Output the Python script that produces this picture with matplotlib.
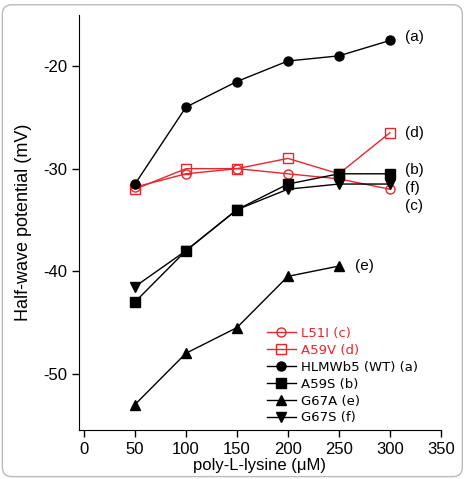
import matplotlib.pyplot as plt
from matplotlib.patches import FancyBboxPatch

# poly-L-lysine concentrations (uM)
conc = [50, 100, 150, 200, 250, 300]
conc_e = [50, 100, 150, 200, 250]

# half-wave potentials (mV)
l51i = [-31.8, -30.5, -30.0, -30.5, -31.0, -32.0]
a59v = [-32.0, -30.0, -30.0, -29.0, -30.5, -26.5]
wt = [-31.5, -24.0, -21.5, -19.5, -19.0, -17.5]
a59s = [-43.0, -38.0, -34.0, -31.5, -30.5, -30.5]
g67a = [-53.0, -48.0, -45.5, -40.5, -39.5]
g67s = [-41.5, -38.0, -34.0, -32.0, -31.5, -31.5]

tags = ['(a)', '(d)', '(b)', '(f)', '(c)', '(e)']
tag_x = [315, 315, 315, 315, 315, 266]
tag_y = [-17.2, -26.5, -30.1, -31.9, -33.6, -39.5]

plt.rcParams['font.family'] = ['Liberation Sans', 'DejaVu Sans']
plt.rcParams['axes.unicode_minus'] = False

fig = plt.figure(figsize=(4.67, 4.79), dpi=100)
ax = fig.add_axes([0.169, 0.102, 0.775, 0.867])

red = '#e8262b'
ax.plot(conc, l51i, color=red, marker='o', mfc='none', mec=red, ms=6.5, lw=1, label='L51I (c)')
ax.plot(conc, a59v, color=red, marker='s', mfc='none', mec=red, ms=6.5, lw=1, label='A59V (d)')
ax.plot(conc, wt, color='black', marker='o', ms=6.5, lw=1, label='HLMWb5 (WT) (a)')
ax.plot(conc, a59s, color='black', marker='s', ms=6.5, lw=1, label='A59S (b)')
ax.plot(conc_e, g67a, color='black', marker='^', ms=6.5, lw=1, label='G67A (e)')
ax.plot(conc, g67s, color='black', marker='v', ms=6.5, lw=1, label='G67S (f)')

for t, x, y in zip(tags, tag_x, tag_y):
    ax.text(x, y, t, fontsize=11, va='center', ha='left')

ax.set_xlim(-5, 350)
ax.set_ylim(-55.5, -15)
ax.set_xticks([0, 50, 100, 150, 200, 250, 300, 350])
ax.set_yticks([-50, -40, -30, -20])
ax.tick_params(labelsize=12, direction='out', length=5, width=1)
ax.spines['top'].set_visible(False)
ax.spines['right'].set_visible(False)
ax.set_xlabel('poly-L-lysine (\u03bcM)', fontsize=12, labelpad=1)
ax.set_ylabel('Half-wave potential (mV)', fontsize=13, labelpad=8)

leg = ax.legend(loc='lower right', bbox_to_anchor=(0.97, -0.015), frameon=False,
                prop={'family': 'DejaVu Sans', 'size': 9.5}, handlelength=2.2,
                handletextpad=0.4, labelspacing=0.3)
for txt in leg.get_texts()[:2]:
    txt.set_color(red)

frame = FancyBboxPatch((0.005, 0.005), 0.985, 0.985, boxstyle='round,pad=0,rounding_size=0.02',
                       transform=fig.transFigure, fill=False, ec='#bbbbbb', lw=1)
fig.patches.append(frame)

fig.savefig('out.png', dpi=100)
